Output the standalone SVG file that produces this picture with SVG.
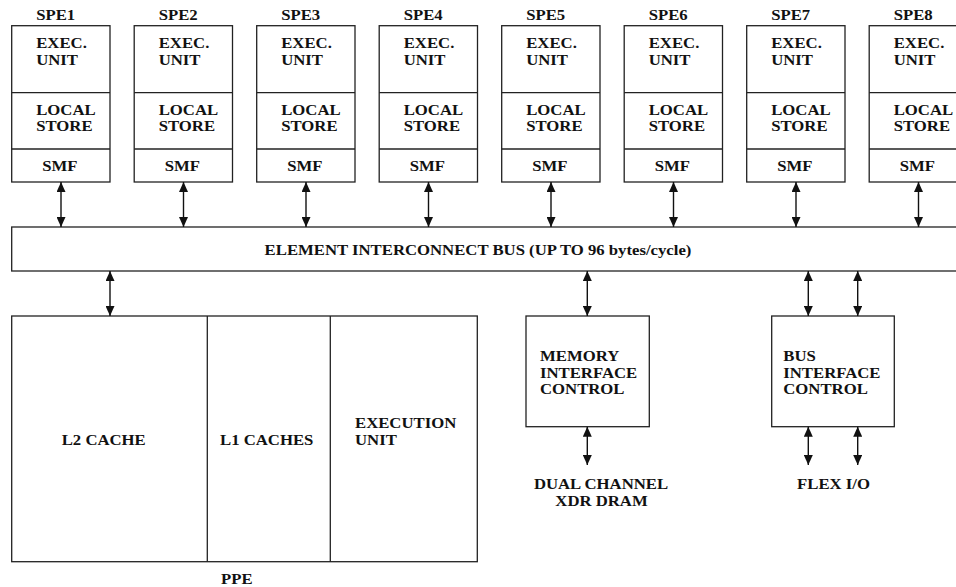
<svg xmlns="http://www.w3.org/2000/svg" width="956" height="587" viewBox="0 0 956 587">
<style>
.box{fill:#fff;stroke:#222;stroke-width:1.3}
.div{stroke:#222;stroke-width:1.3}
.t{font-family:"Liberation Serif","Times New Roman",serif;font-weight:bold;font-size:15.2px;fill:#111}
.c{text-anchor:middle}
.ar{stroke:#111;stroke-width:1.4;fill:none;marker-start:url(#ah);marker-end:url(#ah)}
</style>
<defs>
<marker id="ah" viewBox="0 0 10 9" markerWidth="10" markerHeight="9" refX="10" refY="4.5" markerUnits="userSpaceOnUse" orient="auto-start-reverse">
<path d="M0,0 L10,4.5 L0,9 z" fill="#111"/>
</marker>
</defs>
<rect width="956" height="587" fill="#fff"/>

<g id="spe1" transform="translate(11.7,0)">
<text class="t" transform="translate(24.5,20) scale(1.1,1)">SPE1</text>
<rect class="box" x="0" y="25.7" width="98.3" height="156.3"/>
<line class="div" x1="0" y1="92.7" x2="98.3" y2="92.7"/>
<line class="div" x1="0" y1="149" x2="98.3" y2="149"/>
<text class="t" transform="translate(24.5,48) scale(1.1,1)">EXEC.</text><text class="t" transform="translate(24.5,64.8) scale(1.1,1)">UNIT</text>
<text class="t" transform="translate(24.5,114.5) scale(1.1,1)">LOCAL</text><text class="t" transform="translate(24.5,131.3) scale(1.1,1)">STORE</text>
<text class="t" transform="translate(30.5,170.5) scale(1.1,1)">SMF</text>
</g>
<g id="spe2" transform="translate(134.2,0)">
<text class="t" transform="translate(24.5,20) scale(1.1,1)">SPE2</text>
<rect class="box" x="0" y="25.7" width="98.3" height="156.3"/>
<line class="div" x1="0" y1="92.7" x2="98.3" y2="92.7"/>
<line class="div" x1="0" y1="149" x2="98.3" y2="149"/>
<text class="t" transform="translate(24.5,48) scale(1.1,1)">EXEC.</text><text class="t" transform="translate(24.5,64.8) scale(1.1,1)">UNIT</text>
<text class="t" transform="translate(24.5,114.5) scale(1.1,1)">LOCAL</text><text class="t" transform="translate(24.5,131.3) scale(1.1,1)">STORE</text>
<text class="t" transform="translate(30.5,170.5) scale(1.1,1)">SMF</text>
</g>
<g id="spe3" transform="translate(256.7,0)">
<text class="t" transform="translate(24.5,20) scale(1.1,1)">SPE3</text>
<rect class="box" x="0" y="25.7" width="98.3" height="156.3"/>
<line class="div" x1="0" y1="92.7" x2="98.3" y2="92.7"/>
<line class="div" x1="0" y1="149" x2="98.3" y2="149"/>
<text class="t" transform="translate(24.5,48) scale(1.1,1)">EXEC.</text><text class="t" transform="translate(24.5,64.8) scale(1.1,1)">UNIT</text>
<text class="t" transform="translate(24.5,114.5) scale(1.1,1)">LOCAL</text><text class="t" transform="translate(24.5,131.3) scale(1.1,1)">STORE</text>
<text class="t" transform="translate(30.5,170.5) scale(1.1,1)">SMF</text>
</g>
<g id="spe4" transform="translate(379.2,0)">
<text class="t" transform="translate(24.5,20) scale(1.1,1)">SPE4</text>
<rect class="box" x="0" y="25.7" width="98.3" height="156.3"/>
<line class="div" x1="0" y1="92.7" x2="98.3" y2="92.7"/>
<line class="div" x1="0" y1="149" x2="98.3" y2="149"/>
<text class="t" transform="translate(24.5,48) scale(1.1,1)">EXEC.</text><text class="t" transform="translate(24.5,64.8) scale(1.1,1)">UNIT</text>
<text class="t" transform="translate(24.5,114.5) scale(1.1,1)">LOCAL</text><text class="t" transform="translate(24.5,131.3) scale(1.1,1)">STORE</text>
<text class="t" transform="translate(30.5,170.5) scale(1.1,1)">SMF</text>
</g>
<g id="spe5" transform="translate(501.7,0)">
<text class="t" transform="translate(24.5,20) scale(1.1,1)">SPE5</text>
<rect class="box" x="0" y="25.7" width="98.3" height="156.3"/>
<line class="div" x1="0" y1="92.7" x2="98.3" y2="92.7"/>
<line class="div" x1="0" y1="149" x2="98.3" y2="149"/>
<text class="t" transform="translate(24.5,48) scale(1.1,1)">EXEC.</text><text class="t" transform="translate(24.5,64.8) scale(1.1,1)">UNIT</text>
<text class="t" transform="translate(24.5,114.5) scale(1.1,1)">LOCAL</text><text class="t" transform="translate(24.5,131.3) scale(1.1,1)">STORE</text>
<text class="t" transform="translate(30.5,170.5) scale(1.1,1)">SMF</text>
</g>
<g id="spe6" transform="translate(624.2,0)">
<text class="t" transform="translate(24.5,20) scale(1.1,1)">SPE6</text>
<rect class="box" x="0" y="25.7" width="98.3" height="156.3"/>
<line class="div" x1="0" y1="92.7" x2="98.3" y2="92.7"/>
<line class="div" x1="0" y1="149" x2="98.3" y2="149"/>
<text class="t" transform="translate(24.5,48) scale(1.1,1)">EXEC.</text><text class="t" transform="translate(24.5,64.8) scale(1.1,1)">UNIT</text>
<text class="t" transform="translate(24.5,114.5) scale(1.1,1)">LOCAL</text><text class="t" transform="translate(24.5,131.3) scale(1.1,1)">STORE</text>
<text class="t" transform="translate(30.5,170.5) scale(1.1,1)">SMF</text>
</g>
<g id="spe7" transform="translate(746.7,0)">
<text class="t" transform="translate(24.5,20) scale(1.1,1)">SPE7</text>
<rect class="box" x="0" y="25.7" width="98.3" height="156.3"/>
<line class="div" x1="0" y1="92.7" x2="98.3" y2="92.7"/>
<line class="div" x1="0" y1="149" x2="98.3" y2="149"/>
<text class="t" transform="translate(24.5,48) scale(1.1,1)">EXEC.</text><text class="t" transform="translate(24.5,64.8) scale(1.1,1)">UNIT</text>
<text class="t" transform="translate(24.5,114.5) scale(1.1,1)">LOCAL</text><text class="t" transform="translate(24.5,131.3) scale(1.1,1)">STORE</text>
<text class="t" transform="translate(30.5,170.5) scale(1.1,1)">SMF</text>
</g>
<g id="spe8" transform="translate(869.2,0)">
<text class="t" transform="translate(24.5,20) scale(1.1,1)">SPE8</text>
<rect class="box" x="0" y="25.7" width="98.3" height="156.3"/>
<line class="div" x1="0" y1="92.7" x2="98.3" y2="92.7"/>
<line class="div" x1="0" y1="149" x2="98.3" y2="149"/>
<text class="t" transform="translate(24.5,48) scale(1.1,1)">EXEC.</text><text class="t" transform="translate(24.5,64.8) scale(1.1,1)">UNIT</text>
<text class="t" transform="translate(24.5,114.5) scale(1.1,1)">LOCAL</text><text class="t" transform="translate(24.5,131.3) scale(1.1,1)">STORE</text>
<text class="t" transform="translate(30.5,170.5) scale(1.1,1)">SMF</text>
</g>

<g id="eib">
<rect class="box" x="11.7" y="227" width="960" height="44"/>
<text class="t c" transform="translate(478,255) scale(1.1,1)">ELEMENT INTERCONNECT BUS (UP TO 96 bytes/cycle)</text>
</g>

<g id="ppe">
<rect class="box" x="11.7" y="316" width="465.6" height="245.7"/>
<line class="div" x1="207.3" y1="316" x2="207.3" y2="561.7"/>
<line class="div" x1="330.3" y1="316" x2="330.3" y2="561.7"/>
<text class="t" transform="translate(61.7,444.5) scale(1.1,1)">L2 CACHE</text>
<text class="t" transform="translate(220,444.5) scale(1.1,1)">L1 CACHES</text>
<text class="t" transform="translate(355,428) scale(1.1,1)">EXECUTION</text>
<text class="t" transform="translate(355,444.8) scale(1.1,1)">UNIT</text>
<text class="t" transform="translate(221,584) scale(1.1,1)">PPE</text>
</g>

<g id="mic">
<rect class="box" x="526" y="316" width="123.3" height="110.7"/>
<text class="t" transform="translate(540,360.7) scale(1.1,1)">MEMORY</text>
<text class="t" transform="translate(540,377.5) scale(1.1,1)">INTERFACE</text>
<text class="t" transform="translate(540,394.3) scale(1.1,1)">CONTROL</text>
</g>
<g id="xdr">
<text class="t c" transform="translate(601,489) scale(1.1,1)">DUAL CHANNEL</text>
<text class="t c" transform="translate(601.5,505.8) scale(1.1,1)">XDR DRAM</text>
</g>

<g id="bic">
<rect class="box" x="771.7" y="316" width="122.6" height="110.7"/>
<text class="t" transform="translate(783.3,360.7) scale(1.1,1)">BUS</text>
<text class="t" transform="translate(783.3,377.5) scale(1.1,1)">INTERFACE</text>
<text class="t" transform="translate(783.3,394.3) scale(1.1,1)">CONTROL</text>
</g>
<g id="flexio">
<text class="t c" transform="translate(833.5,489) scale(1.1,1)">FLEX I/O</text>
</g>

<g id="connectors">
<line class="ar" x1="61" y1="182" x2="61" y2="227"/>
<line class="ar" x1="183.5" y1="182" x2="183.5" y2="227"/>
<line class="ar" x1="306" y1="182" x2="306" y2="227"/>
<line class="ar" x1="428.5" y1="182" x2="428.5" y2="227"/>
<line class="ar" x1="551" y1="182" x2="551" y2="227"/>
<line class="ar" x1="673.5" y1="182" x2="673.5" y2="227"/>
<line class="ar" x1="796" y1="182" x2="796" y2="227"/>
<line class="ar" x1="918.5" y1="182" x2="918.5" y2="227"/>
<line class="ar" x1="110" y1="271" x2="110" y2="316"/>
<line class="ar" x1="587.3" y1="271" x2="587.3" y2="316"/>
<line class="ar" x1="808.3" y1="271" x2="808.3" y2="316"/>
<line class="ar" x1="857.7" y1="271" x2="857.7" y2="316"/>
<line class="ar" x1="587.3" y1="426.7" x2="587.3" y2="465"/>
<line class="ar" x1="808.3" y1="426.7" x2="808.3" y2="465"/>
<line class="ar" x1="857.7" y1="426.7" x2="857.7" y2="465"/>
</g>
</svg>
